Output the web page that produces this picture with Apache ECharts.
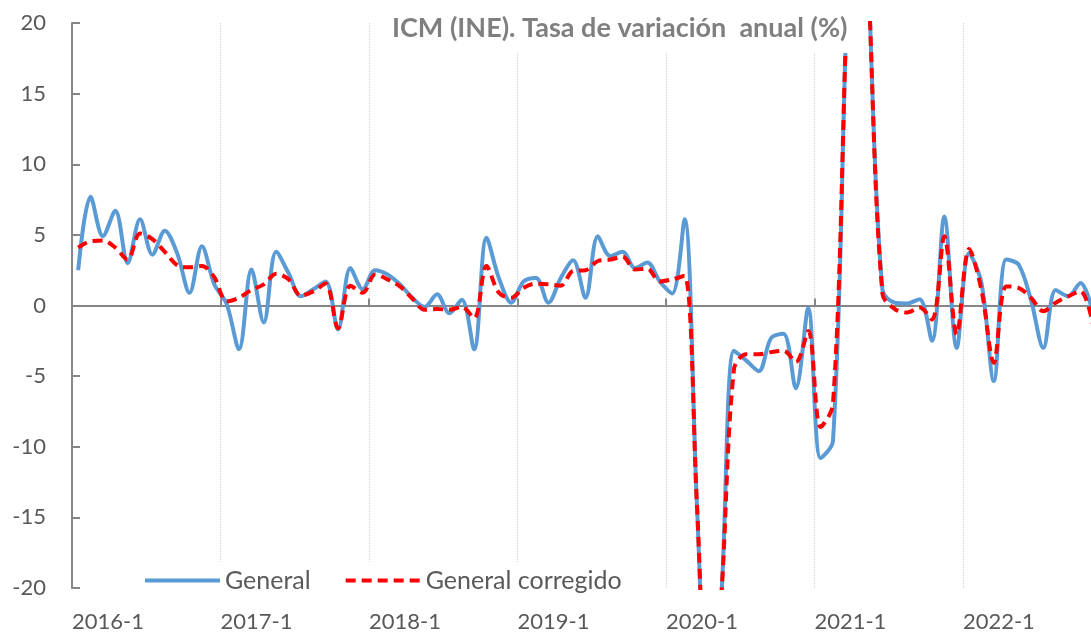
<!DOCTYPE html>
<html>
<head>
<meta charset="utf-8">
<script src="https://cdn.jsdelivr.net/npm/echarts@6.0.0/dist/echarts.min.js"></script>
<style>
	html, body { margin: 0; padding: 0; background: #fff; overflow: hidden; }
	/* el gráfico original está recortado por la derecha: el lienzo es algo más ancho que la ventana */
	#chart_icm { width: 1099px; height: 634px; }
</style>
</head>
<body>
<div id="chart_icm"></div>
<script>
	// etiquetas de año (eje inferior)
	var yearLabels = ['2016-1', '2017-1', '2018-1', '2019-1', '2020-1', '2021-1', '2022-1'];

	// ICM general, tasa anual (%), 2016-1 .. 2022-11
	var general = [
		2.5, 7.7, 4.9, 6.7, 3.0, 6.1, 3.6, 5.3, 3.7, 0.9, 4.2, 1.5,
		0.1, -3.1, 2.55, -1.2, 3.8, 2.3, 0.65, 1.15, 1.7, -1.7, 2.65, 1.15,
		2.5, 2.2, 1.5, 0.55, -0.1, 0.8, -0.55, 0.4, -3.1, 4.8, 1.95, 0.2,
		1.7, 1.95, 0.2, 1.95, 3.2, 0.55, 4.9, 3.5, 3.8, 2.65, 3.05, 1.7,
		0.85, 6.1, -14.0, -31.5, -20.3, -3.2, -3.9, -4.65, -2.3, -2.0, -5.85, -0.2,
		-10.8, -9.6, 17.8, 48.0, 20.0, 1.1, 0.2, 0.15, 0.45, -2.5, 6.3, -3.0,
		3.7, 1.6, -5.35, 3.25, 2.9, 0.4, -3.0, 1.1, 0.65, 1.6, -0.5
	];

	// ICM general corregido de efectos estacionales y de calendario
	var corregido = [
		4.1, 4.55, 4.6, 4.1, 3.25, 5.1, 4.7, 3.8, 2.85, 2.7, 2.8, 2.0,
		0.3, 0.55, 1.1, 1.5, 2.25, 1.85, 0.7, 1.0, 1.55, -1.6, 1.4, 0.9,
		2.2, 1.85, 1.35, 0.5, -0.3, -0.25, -0.3, -0.1, -0.9, 2.8, 0.9, 0.55,
		1.25, 1.55, 1.5, 1.4, 2.45, 2.5, 3.15, 3.25, 3.45, 2.55, 2.6, 1.7,
		1.85, 2.1, -14.0, -31.5, -20.2, -4.5, -3.45, -3.45, -3.3, -3.2, -4.0, -1.8,
		-8.6, -7.0, 17.8, 48.0, 20.0, 0.8, -0.25, -0.5, -0.15, -1.0, 4.9, -2.05,
		4.0, 1.1, -4.05, 1.35, 1.25, 0.55, -0.4, 0.2, 0.65, 1.0, -1.3
	];

	var months = [];
	for (var i = 0; i < general.length; i++) {
		months.push((2016 + Math.floor(i / 12)) + '-' + (i % 12 + 1));
	}

	var font = 'Lato';
	var gray = '#595959';

	var option = {
		animation: false,
		title: {
			text: 'ICM (INE). Tasa de variación  anual (%)',
			left: 382,
			top: 0,
			padding: [15, 6, 11, 10],
			backgroundColor: '#fff',
			textStyle: {
				fontFamily: font,
				fontWeight: 'bold',
				fontSize: 27,
				color: '#7f7f7f'
			}
		},
		legend: {
			data: ['General', 'General corregido'],
			left: 135,
			top: 562,
			padding: [6, 12, 6, 8],
			backgroundColor: '#fff',
			itemWidth: 75,
			itemHeight: 14,
			itemGap: 33,
			itemStyle: { opacity: 0 },
			lineStyle: { width: 4 },
			textStyle: {
				fontFamily: font,
				fontSize: 25,
				color: gray
			}
		},
		grid: {
			left: 72,
			top: 23,
			right: 0,
			bottom: 46,
			containLabel: false
		},
		xAxis: [{
				type: 'category',
				position: 'bottom',
				data: months,
				boundaryGap: true,
				axisLine: {
					onZero: true,
					lineStyle: { color: '#868686', width: 2 }
				},
				axisTick: {
					show: true,
					inside: true,
					length: 7,
					interval: 11,
					lineStyle: { color: '#868686', width: 2 }
				},
				axisLabel: { show: false },
				splitLine: {
					show: true,
					interval: 11,
					lineStyle: { color: '#d0d0d0', type: 'dotted', width: 1 }
				}
			},
			{
				// sólo para las etiquetas de año, alineadas al inicio de cada año
				type: 'value',
				position: 'bottom',
				min: 0,
				max: general.length,
				interval: 12,
				axisLine: { show: false, onZero: false },
				axisTick: { show: false },
				splitLine: { show: false },
				axisLabel: {
					show: true,
					align: 'left',
					margin: 23,
					showMaxLabel: false,
					fontFamily: font,
					fontSize: 22,
					color: gray,
					formatter: function(v) {
						return v % 12 === 0 && yearLabels[v / 12] ? yearLabels[v / 12] : '';
					}
				}
			}
		],
		yAxis: {
			type: 'value',
			min: -20,
			max: 20,
			interval: 5,
			axisLine: {
				show: true,
				onZero: false,
				lineStyle: { color: '#868686', width: 2 }
			},
			axisTick: {
				show: true,
				inside: true,
				length: 8,
				lineStyle: { color: '#868686', width: 2 }
			},
			splitLine: { show: false },
			axisLabel: {
				margin: 26,
				fontFamily: font,
				fontSize: 22,
				color: gray
			}
		},
		series: [{
				name: 'General',
				type: 'line',
				xAxisIndex: 0,
				data: general,
				smooth: 0.33,
				symbol: 'none',
				showSymbol: false,
				clip: true,
				lineStyle: { color: '#5B9BD5', width: 4 },
				itemStyle: { color: '#5B9BD5' }
			},
			{
				name: 'General corregido',
				type: 'line',
				xAxisIndex: 0,
				data: corregido,
				smooth: 0.33,
				symbol: 'none',
				showSymbol: false,
				clip: true,
				lineStyle: { color: '#FF0000', width: 4, type: [10, 6] },
				itemStyle: { color: '#FF0000' }
			}
		]
	};

	var myChart = echarts.init(document.getElementById('chart_icm'));
	myChart.setOption(option);
</script>
</body>
</html>
